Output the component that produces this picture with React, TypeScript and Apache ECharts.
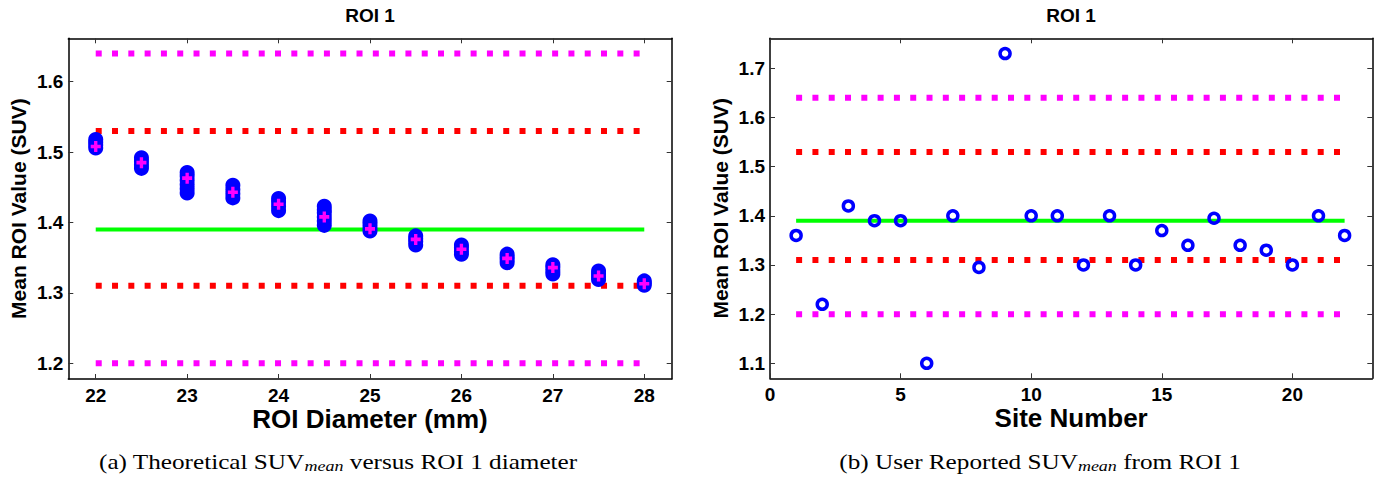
import React, { useEffect, useRef } from "react";
import * as echarts from "echarts";

// ---------- data ----------
const diameters = [22, 22.5, 23, 23.5, 24, 24.5, 25, 25.5, 26, 26.5, 27, 27.5, 28];
// individual theoretical SUVmean samples at each ROI diameter (read from the capsules)
const roiSamples = [
  [1.506, 1.510, 1.514, 1.518],
  [1.477, 1.482, 1.487, 1.492],
  [1.442, 1.448, 1.454, 1.460, 1.466, 1.471],
  [1.435, 1.441, 1.447, 1.453],
  [1.417, 1.423, 1.429, 1.434],
  [1.396, 1.402, 1.408, 1.414, 1.418, 1.423],
  [1.388, 1.393, 1.398, 1.402],
  [1.368, 1.373, 1.377, 1.381],
  [1.355, 1.359, 1.364, 1.368],
  [1.343, 1.347, 1.351, 1.355],
  [1.327, 1.331, 1.336, 1.340],
  [1.319, 1.323, 1.327, 1.331],
  [1.311, 1.314, 1.317],
];
const meanSUV = [1.508, 1.485, 1.463, 1.443, 1.426, 1.408, 1.391, 1.376, 1.362, 1.349, 1.336, 1.324, 1.313];

const siteNumbers = [1, 2, 3, 4, 5, 6, 7, 8, 9, 10, 11, 12, 13, 14, 15, 16, 17, 18, 19, 20, 21, 22];
const siteSUV = [1.36, 1.22, 1.42, 1.39, 1.39, 1.10, 1.40, 1.295, 1.73, 1.40, 1.40, 1.30, 1.40, 1.30, 1.37, 1.34, 1.395, 1.34, 1.33, 1.30, 1.40, 1.36];

const referenceMean = 1.39;
const innerLimits = [1.31, 1.53];
const outerLimits = [1.20, 1.64];

const diameterTicks = [22, 23, 24, 25, 26, 27, 28];
const suvTicksA = [1.2, 1.3, 1.4, 1.5, 1.6];
const siteTicks = [0, 5, 10, 15, 20];
const suvTicksB = [1.1, 1.2, 1.3, 1.4, 1.5, 1.6, 1.7];

const diameterSpan = [22, 28];
const siteSpan = [1, 22];

// ---------- styling ----------
const SANS = '"Liberation Sans", Arial, sans-serif';
const SERIF = '"Liberation Serif", "DejaVu Serif", serif';
const BLUE = "#0000ff";
const MAGENTA = "#ff00ff";
const RED = "#ff0000";
const GREEN = "#00ff00";
const PLUS = "path://M4,0 H8 V4 H12 V8 H8 V12 H4 V8 H0 V4 H4 Z";

function bottomAxis(gridIndex: number, min: number, max: number, ticks: number[], name: string) {
  return {
    type: "value",
    gridIndex,
    position: "bottom",
    min,
    max,
    name,
    nameLocation: "middle",
    nameGap: 27,
    nameMoveOverlap: false,
    nameTextStyle: { fontFamily: SANS, fontWeight: "bold", fontSize: 26, lineHeight: 26, color: "#000" },
    axisLine: { show: true, onZero: false, lineStyle: { color: "#000", width: 1.5 } },
    axisTick: { show: true, inside: true, length: 5, customValues: ticks, lineStyle: { color: "#333", width: 1 } },
    axisLabel: { show: true, margin: 7, lineHeight: 19, customValues: ticks, fontFamily: SANS, fontWeight: "bold", fontSize: 19, color: "#000" },
    splitLine: { show: false },
  };
}
function topAxis(gridIndex: number, min: number, max: number, ticks: number[]) {
  return {
    type: "value",
    gridIndex,
    position: "top",
    min,
    max,
    axisLine: { show: true, onZero: false, lineStyle: { color: "#000", width: 1.5 } },
    axisTick: { show: true, inside: true, length: 5, customValues: ticks, lineStyle: { color: "#333", width: 1 } },
    axisLabel: { show: false },
    splitLine: { show: false },
  };
}
function leftAxis(gridIndex: number, min: number, max: number, ticks: number[], name: string) {
  return {
    type: "value",
    gridIndex,
    position: "left",
    min,
    max,
    name,
    nameLocation: "middle",
    nameGap: 39,
    nameMoveOverlap: false,
    nameTextStyle: { fontFamily: SANS, fontWeight: "bold", fontSize: 21, color: "#000" },
    axisLine: { show: true, onZero: false, lineStyle: { color: "#000", width: 1.5 } },
    axisTick: { show: true, inside: true, length: 5, customValues: ticks, lineStyle: { color: "#333", width: 1 } },
    axisLabel: { show: true, margin: 5, customValues: ticks, fontFamily: SANS, fontWeight: "bold", fontSize: 19, color: "#000", formatter: (v: number) => v.toFixed(1) },
    splitLine: { show: false },
  };
}
function rightAxis(gridIndex: number, min: number, max: number, ticks: number[]) {
  return {
    type: "value",
    gridIndex,
    position: "right",
    min,
    max,
    axisLine: { show: true, onZero: false, lineStyle: { color: "#000", width: 1.5 } },
    axisTick: { show: true, inside: true, length: 5, customValues: ticks, lineStyle: { color: "#333", width: 1 } },
    axisLabel: { show: false },
    splitLine: { show: false },
  };
}

function hLine(name: string, value: number, span: number[], color: string, dotted: boolean, xi: number, yi: number) {
  return {
    name,
    type: "line",
    xAxisIndex: xi,
    yAxisIndex: yi,
    data: [[span[0], value], [span[1], value]],
    symbol: "none",
    silent: true,
    lineStyle: dotted
      ? { color, width: 6, type: [6, 10.3], cap: "butt" }
      : { color, width: 4, type: "solid" },
    z: 1,
  };
}

function caption(letter: string, before: string, after: string, x: number) {
  return {
    type: "text",
    x,
    y: 462,
    scaleX: 1.2,
    style: {
      text: `{n|${letter} ${before}}{s|mean}{n|${after}}`,
      align: "center",
      verticalAlign: "middle",
      rich: {
        n: { fontFamily: SERIF, fontSize: 21, lineHeight: 24, verticalAlign: "middle", fill: "#000", color: "#000" },
        s: { fontFamily: SERIF, fontStyle: "italic", fontSize: 15, lineHeight: 15, verticalAlign: "bottom", fill: "#000", color: "#000" },
      },
    },
  };
}

export default function App() {
  const ref = useRef<HTMLDivElement>(null);
  useEffect(() => {
    if (!ref.current) return;
    const chart = echarts.init(ref.current, null, { renderer: "svg" });

    const capsulePoints: number[][] = [];
    diameters.forEach((d, i) => roiSamples[i].forEach((v) => capsulePoints.push([d, v])));
    const meanPoints = diameters.map((d, i) => [d, meanSUV[i]]);
    const sitePoints = siteNumbers.map((s, i) => [s, siteSUV[i]]);

    const option = {
      animation: false,
      backgroundColor: "#fff",
      grid: [
        { left: 68.3, top: 38.3, width: 603.4, height: 340.7, containLabel: false },
        { left: 770, top: 38.3, width: 602.3, height: 340, containLabel: false },
      ],
      xAxis: [
        bottomAxis(0, 21.7, 28.3, diameterTicks, "ROI Diameter (mm)"),
        topAxis(0, 21.7, 28.3, diameterTicks),
        bottomAxis(1, 0, 23.06, siteTicks, "Site Number"),
        topAxis(1, 0, 23.06, siteTicks),
      ],
      yAxis: [
        leftAxis(0, 1.1777, 1.6617, suvTicksA, "Mean ROI Value (SUV)"),
        rightAxis(0, 1.1777, 1.6617, suvTicksA),
        leftAxis(1, 1.0695, 1.761, suvTicksB, "Mean ROI Value (SUV)"),
        rightAxis(1, 1.0695, 1.761, suvTicksB),
      ],
      graphic: [
        { type: "text", x: 370, y: 15, style: { text: "ROI 1", font: `bold 19px ${SANS}`, align: "center", verticalAlign: "middle", fill: "#000" } },
        { type: "text", x: 1071, y: 15, style: { text: "ROI 1", font: `bold 19px ${SANS}`, align: "center", verticalAlign: "middle", fill: "#000" } },
        caption("(a)", "Theoretical SUV", " versus ROI 1 diameter", 338),
        caption("(b)", "User Reported SUV", " from ROI 1", 1040),
      ],
      series: [
        hLine("Outer upper A", outerLimits[1], diameterSpan, MAGENTA, true, 0, 0),
        hLine("Inner upper A", innerLimits[1], diameterSpan, RED, true, 0, 0),
        hLine("Mean A", referenceMean, diameterSpan, GREEN, false, 0, 0),
        hLine("Inner lower A", innerLimits[0], diameterSpan, RED, true, 0, 0),
        hLine("Outer lower A", outerLimits[0], diameterSpan, MAGENTA, true, 0, 0),
        {
          name: "Theoretical SUVmean",
          type: "scatter",
          xAxisIndex: 0,
          yAxisIndex: 0,
          data: capsulePoints,
          symbol: "circle",
          symbolSize: 13,
          itemStyle: { color: BLUE, borderColor: BLUE, borderWidth: 2, opacity: 1 },
          z: 3,
        },
        {
          name: "Mean of samples",
          type: "scatter",
          xAxisIndex: 0,
          yAxisIndex: 0,
          data: meanPoints,
          symbol: PLUS,
          symbolSize: [10, 11],
          itemStyle: { color: MAGENTA, opacity: 1 },
          z: 4,
        },
        hLine("Outer upper B", outerLimits[1], siteSpan, MAGENTA, true, 2, 2),
        hLine("Inner upper B", innerLimits[1], siteSpan, RED, true, 2, 2),
        hLine("Mean B", referenceMean, siteSpan, GREEN, false, 2, 2),
        hLine("Inner lower B", innerLimits[0], siteSpan, RED, true, 2, 2),
        hLine("Outer lower B", outerLimits[0], siteSpan, MAGENTA, true, 2, 2),
        {
          name: "User reported SUVmean",
          type: "scatter",
          xAxisIndex: 2,
          yAxisIndex: 2,
          data: sitePoints,
          symbol: "circle",
          symbolSize: 10,
          itemStyle: { color: "rgba(255,255,255,0)", borderColor: BLUE, borderWidth: 3.5, opacity: 1 },
          z: 3,
        },
      ],
    };
    chart.setOption(option as any);
    return () => chart.dispose();
  }, []);

  return (
    <div
      ref={ref}
      style={{ position: "fixed", left: 0, top: 0, width: 1384, height: 479, background: "#fff" }}
    />
  );
}
